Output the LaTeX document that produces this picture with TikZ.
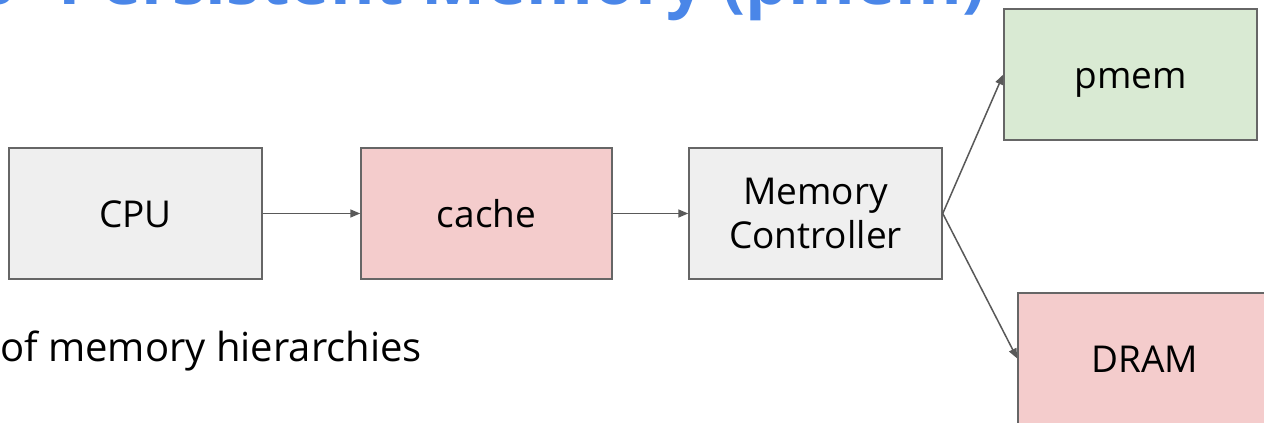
\documentclass[tikz,border=0pt]{standalone}
\usepackage{fontspec}
\setmainfont{Open Sans}
\usetikzlibrary{arrows.meta}
\definecolor{boxgray}{HTML}{EFEFEF}
\definecolor{boxpink}{HTML}{F4CCCC}
\definecolor{boxgreen}{HTML}{D9EAD3}
\definecolor{edge}{HTML}{666666}
\definecolor{arrowc}{HTML}{595959}
\definecolor{titleblue}{HTML}{4A86E8}
\begin{document}
\begin{tikzpicture}[x=1pt,y=1pt,
  box/.style={draw=edge, line width=1.5pt, minimum width=253pt, minimum height=131pt,
    inner sep=0pt, font=\fontsize{37}{44}\selectfont, align=center},
  oneline/.style={text height=28pt, text depth=0pt},
  conn/.style={draw=arrowc, line width=1.5pt, -{Triangle[length=10pt,width=8pt]}}]
\clip (0,0) rectangle (1264,423);
\fill[white] (0,0) rectangle (1264,423);
\node[anchor=base east, inner sep=0pt, text=titleblue,
  font=\fontsize{68}{68}\selectfont\bfseries] (title) at (985.5,418.5) {s\hspace{26pt} Persistent Memory (pmem)};
\node[anchor=base west, inner sep=0pt, font=\fontsize{40}{40}\selectfont] (sub) at (0,61) {of memory hierarchies};
\node[box, oneline, fill=boxgray] (cpu) at (135.5,209.5) {CPU};
\node[box, oneline, fill=boxpink, minimum width=251pt] (cache) at (486.5,209.5) {cache};
\node[box, fill=boxgray] (mc) at (815.5,209.5) {Memory\\Controller};
\node[box, oneline, fill=boxgreen] (pmem) at (1130.5,348.5) {pmem};
\node[box, oneline, fill=boxpink] (dram) at (1144.5,64.5) {DRAM};
\draw[conn] (cpu.east) -- (cache.west);
\draw[conn] (cache.east) -- (mc.west);
\draw[conn] (mc.east) -- (pmem.west);
\draw[conn] (mc.east) -- (dram.west);
\end{tikzpicture}
\end{document}
